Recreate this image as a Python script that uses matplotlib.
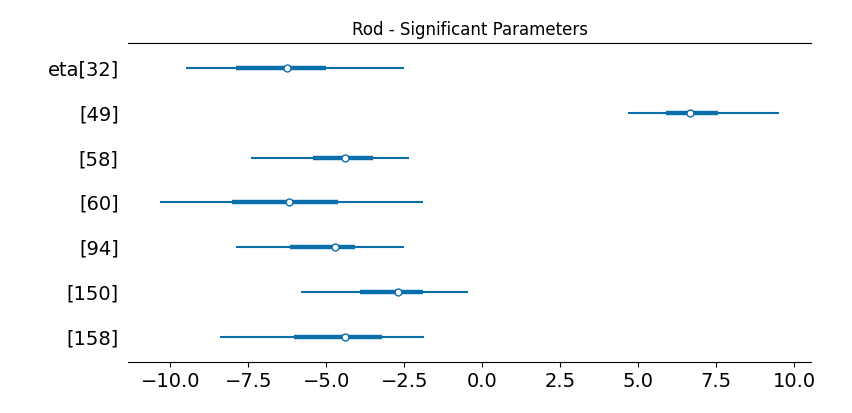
import numpy as np
import matplotlib
matplotlib.use("Agg")
import matplotlib.pyplot as plt

# forest plot values (94% HDI, 50% HDI, median)
labels = ["eta[32]", "[49]", "[58]", "[60]", "[94]", "[150]", "[158]"]
median = [-6.25, 6.66, -4.42, -6.19, -4.74, -2.69, -4.39]
hdi_lo = [-9.50, 4.68, -7.41, -10.35, -7.89, -5.81, -8.41]
hdi_hi = [-2.51, 9.51, -2.35, -1.91, -2.51, -0.46, -1.88]
iqr_lo = [-7.89, 5.89, -5.43, -8.02, -6.16, -3.92, -6.04]
iqr_hi = [-5.01, 7.56, -3.51, -4.62, -4.08, -1.91, -3.22]

color = "#0a6eaa"

fig = plt.figure(figsize=(8.53, 4.13), dpi=100)
ax = fig.add_axes([0.1505, 0.1235, 0.800, 0.7725])

y = np.arange(len(labels))
ax.hlines(y, hdi_lo, hdi_hi, color=color, lw=1.5)
ax.hlines(y, iqr_lo, iqr_hi, color=color, lw=3.2)
ax.plot(median, y, "o", color=color, mfc="white", mec=color, ms=5, mew=1.0, zorder=3)

ax.set_yticks(y)
ax.set_yticklabels(labels)
ax.set_ylim(len(labels) - 0.45, -0.55)
ax.set_xlim(-11.35, 10.53)
ax.set_xticks(np.arange(-10, 10.1, 2.5))

ax.tick_params(axis="y", length=0, labelsize=14, pad=7)
ax.tick_params(axis="x", labelsize=14)
ax.spines["left"].set_visible(False)
ax.spines["right"].set_visible(False)
ax.set_title("Rod - Significant Parameters", fontsize=12)

fig.savefig("out.png", dpi=100)
